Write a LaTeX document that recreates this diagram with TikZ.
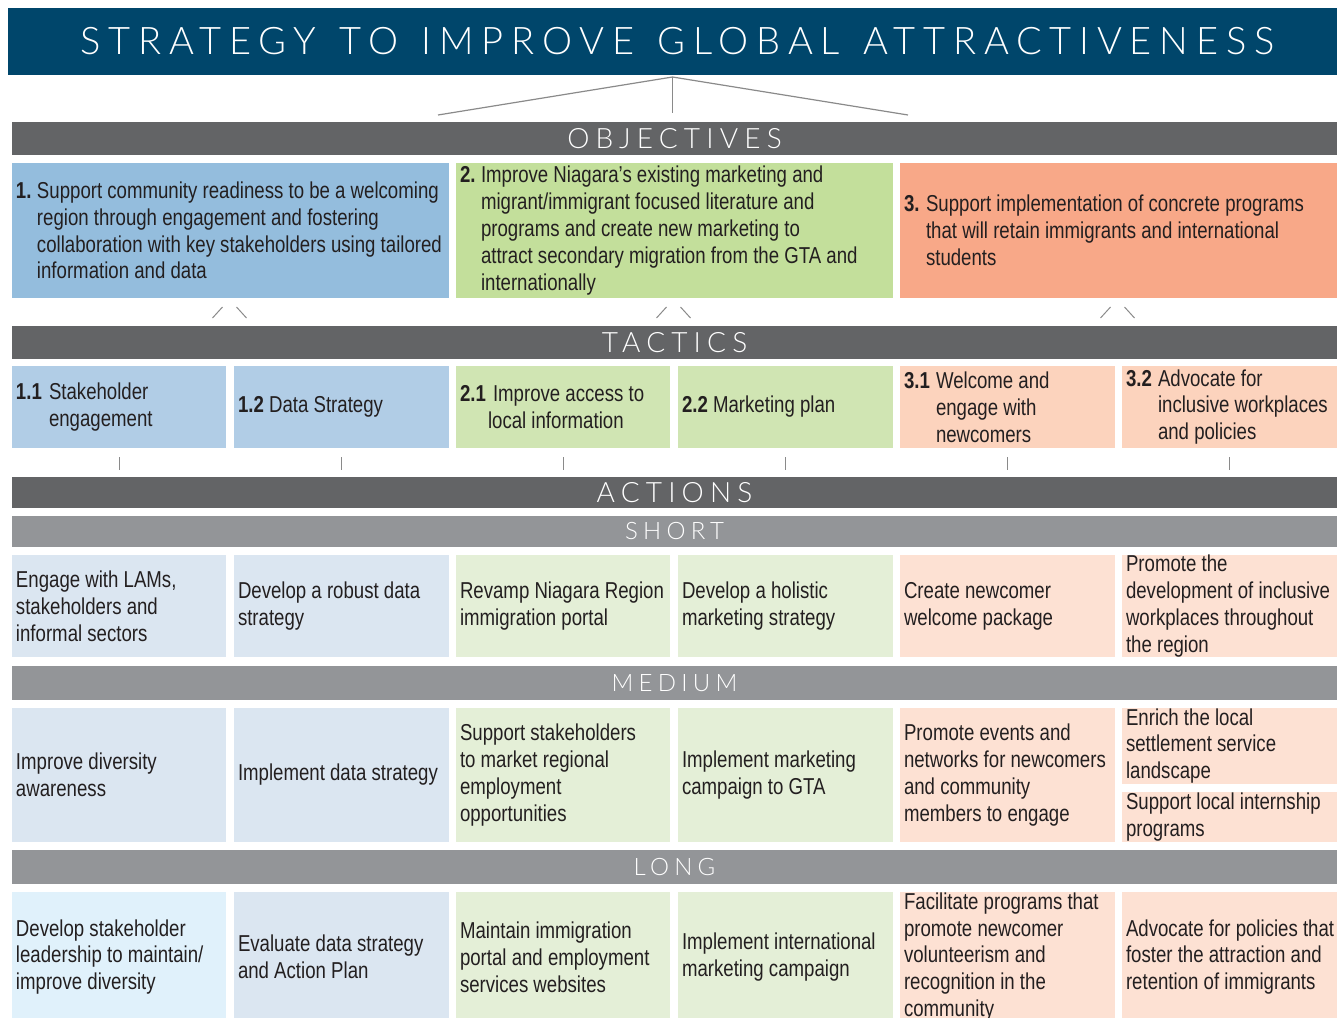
\documentclass[tikz,border=0pt]{standalone}
\usepackage{fontspec}
\setmainfont{Liberation Sans}[FakeStretch=0.81]
\IfFontExistsTF{Lato Light}{%
  \newfontfamily\hdfont{Lato Light}[LetterSpace=22]%
  \newfontfamily\ttlfont{Lato Light}[LetterSpace=20.5, WordSpace=1.3]%
}{%
  \newfontfamily\hdfont{Lato}[LetterSpace=22]%
  \newfontfamily\ttlfont{Lato}[LetterSpace=20.5, WordSpace=1.3]%
}
\usetikzlibrary{calc}
\definecolor{navy}{HTML}{00466B}
\definecolor{dgray}{HTML}{636466}
\definecolor{lgray}{HTML}{939598}
\definecolor{txt}{HTML}{231F20}
\definecolor{lnk}{HTML}{8A8A8A}
\definecolor{oblue}{HTML}{94BDDD}
\definecolor{ogreen}{HTML}{C3DF9B}
\definecolor{osalm}{HTML}{F8A888}
\definecolor{tblue}{HTML}{B1CDE6}
\definecolor{tgreen}{HTML}{D0E5B3}
\definecolor{tsalm}{HTML}{FCD3BD}
\definecolor{ablue}{HTML}{DBE6F1}
\definecolor{agreen}{HTML}{E4EFD7}
\definecolor{asalm}{HTML}{FDE1D3}
\definecolor{lblue}{HTML}{E0F1FB}
\newcommand\bdf{\fontsize{23}{26.8}\selectfont}
\newcommand\nbr[2]{\makebox[#1][l]{\bfseries #2}}
\newcommand\ind[1]{\hspace*{#1}}
\tikzset{
  boxfill/.style={anchor=north west, inner sep=0pt, outer sep=0pt},
  boxtext/.style={anchor=west, inner sep=0pt, outer sep=0pt, align=left, font=\bdf, text=txt},
  bandbox/.style={anchor=north west, inner sep=0pt, outer sep=0pt, text=white, minimum width=1325pt},
  mainhd/.style={font=\hdfont\fontsize{28}{30}\selectfont},
  subhd/.style={font=\hdfont\fontsize{24}{26}\selectfont},
  link/.style={draw=lnk, line width=1.2pt},
  tickln/.style={draw=lnk, line width=1pt},
}
\newcommand\bx[7]{%
  \pgfmathsetmacro\myw{#4-#2}\pgfmathsetmacro\myh{#5-#3}%
  \node[boxfill, fill=#6, minimum width=\myw pt, minimum height=\myh pt] (#1) at (#2,#3) {};%
  \node[boxtext] (#1t) at ([xshift=4pt]#1.west) {#7};}
\newcommand\bnd[5]{%
  \pgfmathsetmacro\myh{#3-#2}%
  \node[bandbox, fill=#4, minimum height=\myh pt, #5] (#1) at (12,#2) {};}
\begin{document}
\begin{tikzpicture}[x=1pt,y=-1pt]
\useasboundingbox (0,0) rectangle (1337,1017);
% title
\node[anchor=north west, inner sep=0pt, outer sep=0pt, fill=navy, minimum width=1329pt, minimum height=67pt] (title) at (8,8) {};
\node[text=white, font=\ttlfont\fontsize{38}{40}\selectfont] at ([xshift=5pt]title.center) {STRATEGY TO IMPROVE GLOBAL ATTRACTIVENESS};
% bands
\bnd{hobj}{122}{155}{dgray}{mainhd}
\node[mainhd, text=white] at (hobj.center) {OBJECTIVES};
\bnd{htac}{326}{359}{dgray}{mainhd}
\node[mainhd, text=white] at (htac.center) {TACTICS};
\bnd{hact}{477}{508}{dgray}{mainhd}
\node[mainhd, text=white] at (hact.center) {ACTIONS};
\bnd{hsh}{516}{547}{lgray}{subhd}
\node[subhd, text=white] at (hsh.center) {SHORT};
\bnd{hmed}{666}{700}{lgray}{subhd}
\node[subhd, text=white] at (hmed.center) {MEDIUM};
\bnd{hlong}{850}{884}{lgray}{subhd}
\node[subhd, text=white] at (hlong.center) {LONG};
% connector under the title
\coordinate (apex) at ($(title.south)+(0,2)$);
\coordinate (lend) at (438,115);
\coordinate (rend) at (908,115);
\coordinate (mend) at ($(hobj.north)+(0,-9)$);
\draw[link] (lend) -- (apex) -- (rend);
\draw[link] (apex) -- (apex |- mend);
% objectives
\bx{o1}{12}{163}{449}{298}{oblue}{\nbr{21pt}{1.}Support community readiness to be a welcoming\\ \ind{21pt}region through engagement and fostering\\ \ind{21pt}collaboration with key stakeholders using tailored\\ \ind{21pt}information and data}
\bx{o2}{456}{163}{893}{298}{ogreen}{\nbr{21pt}{2.}Improve Niagara’s existing marketing and\\ \ind{21pt}migrant/immigrant focused literature and\\ \ind{21pt}programs and create new marketing to\\ \ind{21pt}attract secondary migration from the GTA and\\ \ind{21pt}internationally}
\bx{o3}{900}{163}{1337}{298}{osalm}{\nbr{22pt}{3.}Support implementation of concrete programs\\ \ind{22pt}that will retain immigrants and international\\ \ind{22pt}students}
% carets
\foreach \o in {o1,o2,o3}{
  \draw[tickln] ($(\o.south)+(-18,20)$) -- ($(\o.south)+(-8,9)$);
  \draw[tickln] ($(\o.south)+(6,9)$) -- ($(\o.south)+(16,20)$);
}
% tactics
\bx{t1}{12}{366}{226}{448}{tblue}{\nbr{33pt}{1.1}Stakeholder\\ \ind{33pt}engagement}
\bx{t2}{234}{366}{449}{448}{tblue}{\textbf{1.2} Data Strategy}
\bx{t3}{456}{366}{670}{448}{tgreen}{\nbr{33pt}{2.1}Improve access to\\ \ind{28pt}local information}
\bx{t4}{678}{366}{893}{448}{tgreen}{\textbf{2.2} Marketing plan}
\bx{t5}{900}{366}{1115}{448}{tsalm}{\nbr{32pt}{3.1}Welcome and\\ \ind{32pt}engage with\\ \ind{32pt}newcomers}
\bx{t6}{1122}{366}{1337}{448}{tsalm}{\nbr{32pt}{3.2}Advocate for\\ \ind{32pt}inclusive workplaces\\ \ind{32pt}and policies}
% ticks
\foreach \t in {t1,t2,t3,t4,t5,t6}{
  \draw[tickln] ($(\t.south)+(0,9)$) -- ($(\t.south)+(0,22)$);
}
% short
\bx{s1}{12}{555}{226}{657}{ablue}{Engage with LAMs,\\stakeholders and\\informal sectors}
\bx{s2}{234}{555}{449}{657}{ablue}{Develop a robust data\\strategy}
\bx{s3}{456}{555}{670}{657}{agreen}{Revamp Niagara Region\\immigration portal}
\bx{s4}{678}{555}{893}{657}{agreen}{Develop a holistic\\marketing strategy}
\bx{s5}{900}{555}{1115}{657}{asalm}{Create newcomer\\welcome package}
\bx{s6}{1122}{555}{1337}{657}{asalm}{Promote the\\development of inclusive\\workplaces throughout\\the region}
% medium
\bx{m1}{12}{708}{226}{842}{ablue}{Improve diversity\\awareness}
\bx{m2}{234}{708}{449}{842}{ablue}{Implement data strategy}
\bx{m3}{456}{708}{670}{842}{agreen}{Support stakeholders\\to market regional\\employment\\opportunities}
\bx{m4}{678}{708}{893}{842}{agreen}{Implement marketing\\campaign to GTA}
\bx{m5}{900}{708}{1115}{842}{asalm}{Promote events and\\networks for newcomers\\and community\\members to engage}
\bx{m6}{1122}{708}{1337}{784}{asalm}{Enrich the local\\settlement service\\landscape}
\bx{m7}{1122}{792}{1337}{842}{asalm}{Support local internship\\programs}
% long
\bx{l1}{12}{892}{226}{1022}{lblue}{Develop stakeholder\\leadership to maintain/\\improve diversity}
\bx{l2}{234}{892}{449}{1022}{ablue}{Evaluate data strategy\\and Action Plan}
\bx{l3}{456}{892}{670}{1022}{agreen}{Maintain immigration\\portal and employment\\services websites}
\bx{l4}{678}{892}{893}{1022}{agreen}{Implement international\\marketing campaign}
\bx{l5}{900}{892}{1115}{1022}{asalm}{Facilitate programs that\\promote newcomer\\volunteerism and\\recognition in the\\community}
\bx{l6}{1122}{892}{1337}{1022}{asalm}{Advocate for policies that\\foster the attraction and\\retention of immigrants}
\end{tikzpicture}
\end{document}
